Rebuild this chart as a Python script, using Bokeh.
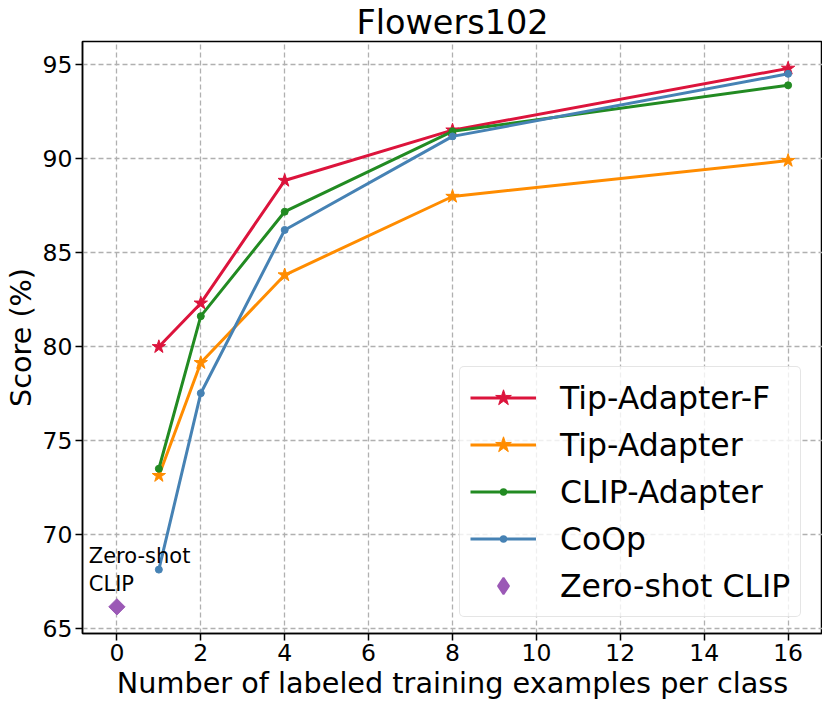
import numpy as np
from bokeh.plotting import figure
from bokeh.models import Range1d, FixedTicker, Legend, LegendItem, Label
from bokeh.embed import file_html
from bokeh.resources import INLINE

shots = [1, 2, 4, 8, 16]
tip_f = [79.98, 82.30, 88.83, 91.51, 94.80]
tip = [73.12, 79.13, 83.80, 87.98, 89.89]
clip_adapter = [73.49, 81.61, 87.17, 91.45, 93.90]
coop = [68.12, 77.51, 86.20, 91.18, 94.51]
zs_x = [0]
zs_y = [66.14]

x_ticks = [0, 2, 4, 6, 8, 10, 12, 14, 16]
y_ticks = [65, 70, 75, 80, 85, 90, 95]

FONT = "DejaVu Sans"

p = figure(frame_width=740, frame_height=592, output_backend="svg", toolbar_location=None,
           x_range=Range1d(-0.82, 16.82), y_range=Range1d(64.72, 96.23),
           min_border_left=0, min_border_right=0, min_border_top=0, min_border_bottom=0)

p.title.text = "Flowers102"
p.title.align = "center"
p.title.text_font = FONT
p.title.text_font_size = "33.5px"
p.title.text_font_style = "normal"
p.title.text_color = "black"
p.title.text_line_height = 1.0
p.title.standoff = 0
p.title.offset = 0

p.outline_line_color = "black"
p.outline_line_width = 1.5
p.outline_line_alpha = 1.0

for ax in (p.xaxis[0], p.yaxis[0]):
    ax.axis_line_color = "black"
    ax.axis_line_width = 1.5
    ax.major_tick_line_color = "black"
    ax.major_tick_line_width = 1.5
    ax.major_tick_in = 0
    ax.major_tick_out = 7
    ax.minor_tick_line_color = None
    ax.major_label_text_font = FONT
    ax.major_label_text_font_size = "23.5px"
    ax.major_label_text_color = "black"
    ax.major_label_text_line_height = 1.0
    ax.axis_label_text_font = FONT
    ax.axis_label_text_font_size = "28.7px"
    ax.axis_label_text_font_style = "normal"
    ax.axis_label_text_color = "black"
    ax.axis_label_text_line_height = 1.0
    ax.major_label_standoff = 3
    ax.axis_label_standoff = 2

p.xaxis[0].ticker = FixedTicker(ticks=x_ticks)
p.yaxis[0].ticker = FixedTicker(ticks=y_ticks)
p.xaxis[0].axis_label = "Number of labeled training examples per class"
p.yaxis[0].axis_label = "Score (%)"

p.xgrid[0].ticker = FixedTicker(ticks=x_ticks)
p.ygrid[0].ticker = FixedTicker(ticks=y_ticks)
for g in (p.xgrid[0], p.ygrid[0]):
    g.grid_line_color = "#b0b0b0"
    g.grid_line_width = 1.3
    g.grid_line_dash = "5 3"

LW = 3
series = [
    ("Tip-Adapter-F", tip_f, "#DC143C", "star", 14),
    ("Tip-Adapter", tip, "#FF8C00", "star", 14),
    ("CLIP-Adapter", clip_adapter, "#228B22", "circle", 7),
    ("CoOp", coop, "#4682B4", "circle", 7),
]
items = []
for name, ys, col, mk, sz in series:
    lr = p.line(shots, ys, line_color=col, line_width=LW)
    sr = p.scatter(shots, ys, marker=mk, size=sz, fill_color=col, line_color=col)
    if mk == "circle":
        # hidden legend-only swatch: white ring trims the legend dot to a small size
        dot = p.scatter(shots, ys, marker="circle", fill_color=col,
                        line_color="white", line_width=9, visible=False)
        items.append(LegendItem(label=name, renderers=[dot, lr]))
    else:
        items.append(LegendItem(label=name, renderers=[lr, sr]))

zr = p.scatter(zs_x, zs_y, marker="square", angle=np.pi / 4, size=11.5,
               fill_color="#9B59B6", line_color="#9B59B6")
zleg = p.scatter(zs_x, zs_y, marker="diamond", fill_color="#9B59B6",
                 line_color="#9B59B6", line_width=2, visible=False)
items.append(LegendItem(label="Zero-shot CLIP", renderers=[zleg]))

p.add_layout(Label(x=-0.67, y=68.85, text="Zero-shot", text_font=FONT,
                   text_font_size="21px", text_color="black", text_baseline="alphabetic"))
p.add_layout(Label(x=-0.67, y=67.35, text="CLIP", text_font=FONT,
                   text_font_size="21px", text_color="black", text_baseline="alphabetic"))

legend = Legend(items=items, location=(377, 16))
legend.label_text_font = FONT
legend.label_text_font_size = "31.5px"
legend.label_text_color = "black"
legend.glyph_width = 66
legend.glyph_height = 41
legend.label_height = 41
legend.label_standoff = 24
legend.spacing = 6
legend.padding = 10
legend.margin = 0
legend.border_line_color = "#cccccc"
legend.border_line_width = 1.2
legend.border_radius = 5
legend.background_fill_color = "white"
legend.background_fill_alpha = 0.8
p.add_layout(legend, "center")

open("out.html", "w").write(file_html(p, INLINE))
